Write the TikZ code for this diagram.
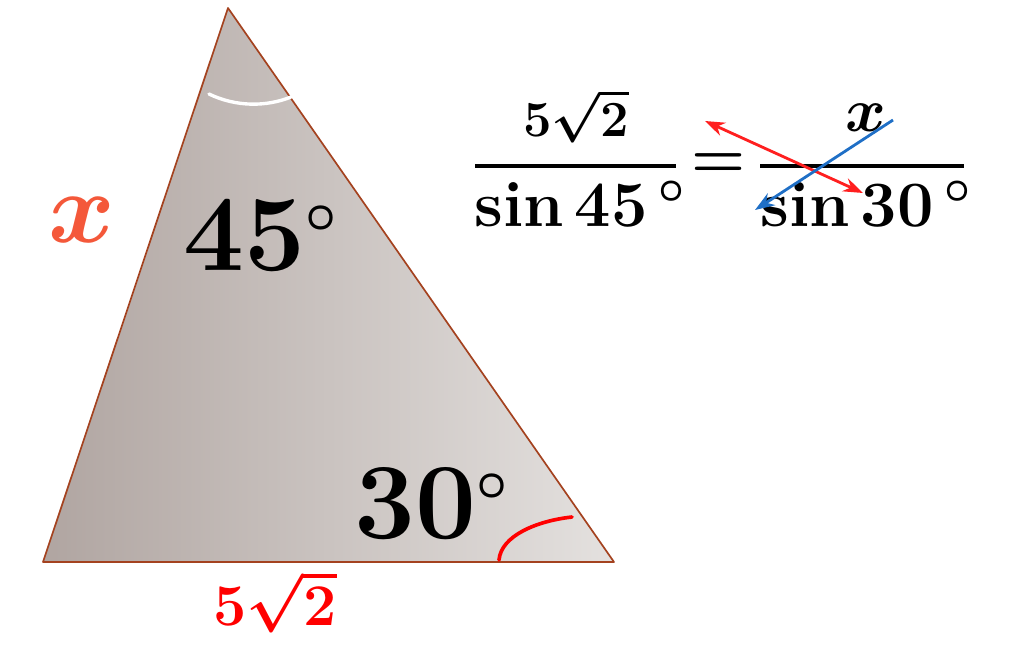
\RequirePackage{fix-cm}
\documentclass[tikz,border=0pt]{standalone}
\usepackage{amsmath}
\usetikzlibrary{arrows.meta}

\definecolor{triedge}{HTML}{A4421F}
\definecolor{trileft}{HTML}{B0A5A1}
\definecolor{triright}{HTML}{E4E1DF}
\definecolor{sideorange}{HTML}{F4583A}
\definecolor{crossred}{HTML}{FF1F1F}
\definecolor{crossblue}{HTML}{1F6FC6}

\tikzset{
    anglelbl/.style={font=\fontsize{77}{80}\selectfont\bfseries\boldmath},
    fraclbl/.style={font=\fontsize{46}{50}\selectfont\bfseries\boldmath},
    numlbl/.style={font=\fontsize{36}{40}\selectfont\bfseries\boldmath},
    crossarrow/.style={line width=2pt,-{Stealth[length=14pt,width=10pt]}},
}

\begin{document}
\begin{tikzpicture}[x=0.025cm,y=-0.025cm]
        \useasboundingbox (0,0) rectangle (1031,646);

        % triangle
        \coordinate (apex) at (228,8);
        \coordinate (bl) at (43,562);
        \coordinate (br) at (614,562);
        \shade[left color=trileft,right color=triright] (apex) -- (bl) -- (br) -- cycle;
        \draw[triedge,line width=1.2pt,line join=round] (apex) -- (bl) -- (br) -- cycle;

        % angle marks
        \draw[white,line width=2.4pt,line cap=round] (209,94) .. controls (236,107) and (266,107) .. (291,97);
        \draw[red,line width=2.6pt,line cap=round] (499,560) .. controls (501,536) and (536,521) .. (572,517);

        \node[anglelbl] (a45) at (260,236) {45$^{\scriptscriptstyle\circ}$};
        \node[anglelbl] (a30) at (431,504) {30$^{\scriptscriptstyle\circ}$};
        \node[font=\fontsize{72}{76}\selectfont\boldmath,text=sideorange] (sidex) at (82,220) {$x$};
        \node[font=\fontsize{42}{46}\selectfont\bfseries\boldmath,text=red] (side52) at (275,602) {5$\sqrt{2}$};

        % law of sines
        \node[numlbl] (num1) at (576,116) {5$\sqrt{2}$};
        \node[fraclbl] (den1) at (580,204) {sin\,45\,$^\circ$};
        \node[font=\fontsize{44}{48}\selectfont\bfseries\boldmath] (eq) at (719,166) {$=$};
        \node[font=\fontsize{44}{48}\selectfont\boldmath] (num2) at (866,118) {$x$};
        \node[fraclbl] (den2) at (866,204) {sin\,30\,$^\circ$};
        \coordinate (bar1l) at (475,166);
        \coordinate (bar1r) at (676,166);
        \coordinate (bar2l) at (760,166);
        \coordinate (bar2r) at (964,166);
        \draw[line width=3pt] (bar1l) -- (bar1r);
        \draw[line width=3pt] (bar2l) -- (bar2r);

        % cross multiply arrows
        \coordinate (redtop) at (705,121);
        \coordinate (redbot) at (863,193);
        \coordinate (bluetop) at (893,120);
        \coordinate (bluebot) at (755,210);
        \draw[crossarrow,crossred,{Stealth[length=14pt,width=10pt]}-{Stealth[length=14pt,width=10pt]}] (redbot) -- (redtop);
        \draw[crossarrow,crossblue] (bluetop) -- (bluebot);
    \end{tikzpicture}
\end{document}
